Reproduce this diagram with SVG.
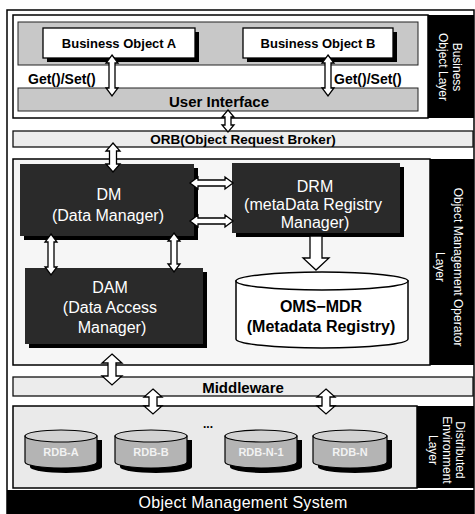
<svg xmlns="http://www.w3.org/2000/svg" width="475" height="514" viewBox="0 0 475 514">
<style>
text{font-family:"Liberation Sans",Arial,Helvetica,sans-serif}
.frame{fill:none;stroke:#000;stroke-width:1.5}
.layer{fill:#f6f6f6;stroke:#000;stroke-width:1.5}
.white{fill:#fff;stroke:#000;stroke-width:1.5}
.band{fill:#c8c8c8;stroke:#222;stroke-width:1}
.lband{fill:#ececec;stroke:#111;stroke-width:1.3}
.side{fill:#000}
.sh{fill:#000}
.box{fill:#fff;stroke:#000;stroke-width:1.3}
.dark{fill:#2a2a2a}
.arrow{fill:#fff;stroke:#000;stroke-width:1.3;stroke-linejoin:miter}
.cyl{fill:#fff;stroke:#000;stroke-width:1.5}
.db{fill:#b4b4b4;stroke:#000;stroke-width:1.2}
.dbtop{fill:#d2d2d2;stroke:#000;stroke-width:1.2}
.lbl{font-size:13px;font-weight:bold;fill:#000;text-anchor:middle}
.wt{font-size:16px;fill:#fff;text-anchor:middle}
.vt{font-size:12px;fill:#fff;text-anchor:middle}
.dbt{font-size:11px;font-weight:bold;fill:#f2f2f2;text-anchor:middle}
</style>

<rect class="frame" x="7" y="10" width="467" height="504"/>

<g id="business-layer">
  <rect class="white" x="13" y="15" width="415" height="103"/>
  <rect class="band" x="18" y="22" width="400" height="43"/>
  <rect class="side" x="428" y="15" width="46" height="103"/>
  <g transform="translate(450,67) rotate(90)">
    <text class="vt" x="0" y="-3">Business</text>
    <text class="vt" x="0" y="11">Object Layer</text>
  </g>
  <text x="28" y="84" style="font-size:14px;font-weight:bold">Get()/Set()</text>
  <text x="334" y="84" style="font-size:14px;font-weight:bold">Get()/Set()</text>
</g>

<g id="bo-a">
  <rect class="sh" x="47" y="32" width="152" height="30"/>
  <rect class="box" x="43" y="28" width="152" height="30"/>
  <text class="lbl" x="119" y="48">Business Object A</text>
</g>

<g id="bo-b">
  <rect class="sh" x="247" y="32" width="150" height="30"/>
  <rect class="box" x="243" y="28" width="150" height="30"/>
  <text class="lbl" x="318" y="48">Business Object B</text>
</g>

<g id="user-interface">
  <rect class="band" x="18" y="88" width="400" height="23"/>
  <text x="219" y="107" style="font-size:15px;font-weight:bold;text-anchor:middle">User Interface</text>
</g>

<g id="orb">
  <rect class="lband" x="13" y="131" width="460" height="16"/>
  <text x="243" y="144" style="font-size:13.5px;font-weight:bold;text-anchor:middle">ORB(Object Request Broker)</text>
</g>

<g id="operator-layer">
  <rect class="layer" x="13" y="159" width="417" height="206"/>
  <rect class="side" x="430" y="159" width="44" height="206"/>
  <g transform="translate(449,267) rotate(90)">
    <text class="vt" x="0" y="-5">Object Management Operator</text>
    <text class="vt" x="0" y="13">Layer</text>
  </g>
</g>

<g id="dm">
  <rect class="sh" x="24" y="168" width="174" height="72"/>
  <rect class="dark" x="20" y="164" width="174" height="72"/>
  <text class="wt" x="109" y="200">DM</text>
  <text class="wt" x="108" y="221">(Data Manager)</text>
</g>

<g id="drm">
  <rect class="sh" x="236" y="167" width="168" height="70"/>
  <rect class="dark" x="232" y="163" width="168" height="70"/>
  <text class="wt" x="315" y="192">DRM</text>
  <text class="wt" x="313" y="210">(metaData Registry</text>
  <text class="wt" x="315" y="228">Manager)</text>
</g>

<g id="dam">
  <rect class="sh" x="29" y="272" width="178" height="76"/>
  <rect class="dark" x="25" y="268" width="178" height="76"/>
  <text class="wt" x="110" y="293">DAM</text>
  <text class="wt" x="110" y="313">(Data Access</text>
  <text class="wt" x="112" y="333">Manager)</text>
</g>

<g id="oms-mdr">
  <path class="cyl" d="M236,281 V339 A86,9 0 0 0 408,339 V281 Z"/>
  <ellipse class="cyl" cx="322" cy="281" rx="86" ry="9"/>
  <text x="321" y="312" style="font-size:16px;font-weight:bold;text-anchor:middle">OMS−MDR</text>
  <text x="321" y="332" style="font-size:16px;font-weight:bold;text-anchor:middle">(Metadata Registry)</text>
</g>

<g id="middleware">
  <rect class="lband" x="13" y="377" width="460" height="19"/>
  <text x="243" y="393" style="font-size:15px;font-weight:bold;text-anchor:middle">Middleware</text>
</g>

<g id="distributed-layer">
  <rect class="layer" x="13" y="406" width="404" height="82" style="fill:#eaeaea"/>
  <rect class="side" x="417" y="406" width="57" height="82"/>
  <g transform="translate(446,450) rotate(90)">
    <text class="vt" x="0" y="-10">Distributed</text>
    <text class="vt" x="0" y="3">Environment</text>
    <text class="vt" x="0" y="17">Layer</text>
  </g>
  <text x="208" y="428" style="font-size:12px;font-weight:bold;text-anchor:middle">...</text>
</g>

<g id="rdb-a">
  <path class="sh" d="M30,440 V467 A36,6 0 0 0 102,467 V440 Z"/>
  <path class="db" d="M25,436 V462 A36,6 0 0 0 97,462 V436 Z"/>
  <ellipse class="dbtop" cx="61" cy="436" rx="36" ry="6"/>
  <text class="dbt" x="61" y="456">RDB-A</text>
</g>
<g id="rdb-b">
  <path class="sh" d="M120,440 V467 A36,6 0 0 0 192,467 V440 Z"/>
  <path class="db" d="M115,436 V462 A36,6 0 0 0 187,462 V436 Z"/>
  <ellipse class="dbtop" cx="151" cy="436" rx="36" ry="6"/>
  <text class="dbt" x="151" y="456">RDB-B</text>
</g>
<g id="rdb-n-1">
  <path class="sh" d="M230,440 V467 A36,6 0 0 0 302,467 V440 Z"/>
  <path class="db" d="M225,436 V462 A36,6 0 0 0 297,462 V436 Z"/>
  <ellipse class="dbtop" cx="261" cy="436" rx="36" ry="6"/>
  <text class="dbt" x="261" y="456">RDB-N-1</text>
</g>
<g id="rdb-n">
  <path class="sh" d="M318,440 V467 A37,6 0 0 0 392,467 V440 Z"/>
  <path class="db" d="M313,436 V462 A37,6 0 0 0 387,462 V436 Z"/>
  <ellipse class="dbtop" cx="350" cy="436" rx="37" ry="6"/>
  <text class="dbt" x="350" y="456">RDB-N</text>
</g>

<g id="oms-bar">
  <rect class="side" x="7" y="490" width="467" height="24"/>
  <text x="243" y="508" style="font-size:16px;fill:#fff;text-anchor:middle;letter-spacing:0.3px">Object Management System</text>
</g>

<g id="connectors">
  <path class="arrow" d="M112,55 L118,63 L115,63 L115,88 L118,88 L112,96 L106,88 L109,88 L109,63 L106,63 Z"/>
  <path class="arrow" d="M328,55 L334,63 L331,63 L331,88 L334,88 L328,96 L322,88 L325,88 L325,63 L322,63 Z"/>
  <path class="arrow" d="M228,110 L234,117 L231,117 L231,125 L234,125 L228,132 L222,125 L225,125 L225,117 L222,117 Z"/>
  <path class="arrow" d="M113,143 L120,151 L116.5,151 L116.5,164 L120,164 L113,172 L106,164 L109.5,164 L109.5,151 L106,151 Z"/>
  <path class="arrow" d="M190,183 L198,177 L198,180 L225,180 L225,177 L233,183 L225,189 L225,186 L198,186 L198,189 Z"/>
  <path class="arrow" d="M190,221 L198,215 L198,218 L225,218 L225,215 L233,221 L225,227 L225,224 L198,224 L198,227 Z"/>
  <path class="arrow" d="M51,234 L57,242 L54,242 L54,267 L57,267 L51,275 L45,267 L48,267 L48,242 L45,242 Z"/>
  <path class="arrow" d="M174,233 L180,241 L177,241 L177,264 L180,264 L174,272 L168,264 L171,264 L171,241 L168,241 Z"/>
  <path class="arrow" d="M310,236 L322,236 L322,258 L329,258 L316,270 L303,258 L310,258 Z"/>
  <path class="arrow" d="M112,354 L122,363 L116,363 L116,376 L122,376 L112,385 L102,376 L108,376 L108,363 L102,363 Z"/>
  <path class="arrow" d="M153,389 L162,397 L157,397 L157,406 L162,406 L153,414 L144,406 L149,406 L149,397 L144,397 Z"/>
  <path class="arrow" d="M326,389 L335,397 L330,397 L330,406 L335,406 L326,414 L317,406 L322,406 L322,397 L317,397 Z"/>
</g>
</svg>
